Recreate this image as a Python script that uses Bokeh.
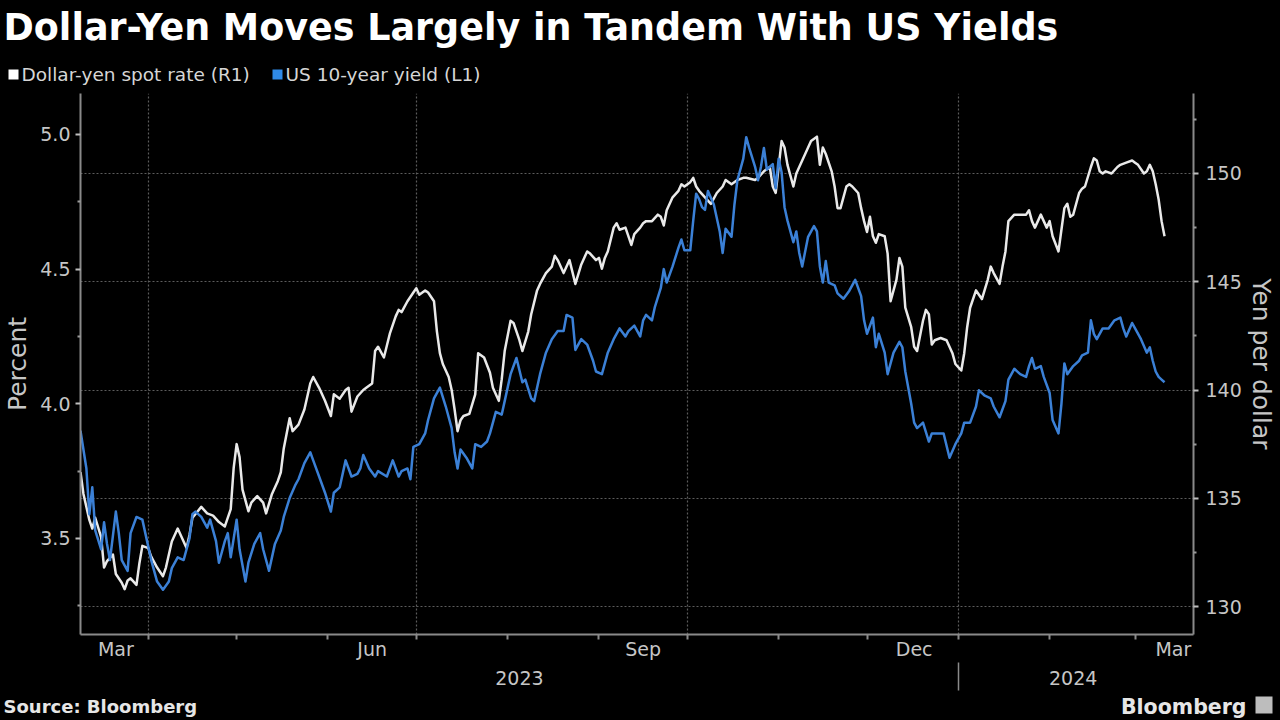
import pandas as pd
from bokeh.plotting import figure
from bokeh.layouts import column
from bokeh.models import (Range1d, LinearAxis, FixedTicker, Grid, Label, BoxAnnotation,
                          PrintfTickFormatter, ColumnDataSource, GlobalInlineStyleSheet)
from bokeh.embed import file_html
from bokeh.resources import INLINE

# ---------------- texts ----------------
title_text = "Dollar-Yen Moves Largely in Tandem With US Yields"
legend_labels = ["Dollar-yen spot rate (R1)", "US 10-year yield (L1)"]
left_title = "Percent"
right_title = "Yen per dollar"
source_text = "Source: Bloomberg"
brand_text = "Bloomberg"

# ---------------- data: dollar-yen spot rate (right axis) ----------------
yen_dates = [
    "2023-03-09", "2023-03-10", "2023-03-12", "2023-03-13", "2023-03-14", "2023-03-16", "2023-03-17",
    "2023-03-18", "2023-03-20", "2023-03-21", "2023-03-23", "2023-03-24", "2023-03-25", "2023-03-26",
    "2023-03-28", "2023-03-29", "2023-03-30",
    "2023-04-01", "2023-04-02", "2023-04-04", "2023-04-06", "2023-04-07", "2023-04-09", "2023-04-11",
    "2023-04-12", "2023-04-14", "2023-04-15", "2023-04-16", "2023-04-19", "2023-04-21", "2023-04-23",
    "2023-04-25", "2023-04-27", "2023-04-29", "2023-04-30",
    "2023-05-01", "2023-05-02", "2023-05-03", "2023-05-05", "2023-05-06", "2023-05-08", "2023-05-10",
    "2023-05-11", "2023-05-13", "2023-05-15", "2023-05-16", "2023-05-17", "2023-05-19", "2023-05-20",
    "2023-05-22", "2023-05-24", "2023-05-26", "2023-05-27", "2023-05-29", "2023-05-31",
    "2023-06-02", "2023-06-03", "2023-06-05", "2023-06-07", "2023-06-08", "2023-06-09", "2023-06-11",
    "2023-06-13", "2023-06-14", "2023-06-16", "2023-06-17", "2023-06-18", "2023-06-20", "2023-06-22",
    "2023-06-24", "2023-06-25", "2023-06-26", "2023-06-28", "2023-06-30",
    "2023-07-01", "2023-07-02", "2023-07-04", "2023-07-05", "2023-07-07", "2023-07-08", "2023-07-09",
    "2023-07-10", "2023-07-12", "2023-07-13", "2023-07-14", "2023-07-15", "2023-07-16", "2023-07-17",
    "2023-07-19", "2023-07-21", "2023-07-22", "2023-07-24", "2023-07-26", "2023-07-27", "2023-07-29",
    "2023-07-30", "2023-07-31",
    "2023-08-02", "2023-08-03", "2023-08-05", "2023-08-06", "2023-08-08", "2023-08-09", "2023-08-11",
    "2023-08-12", "2023-08-14", "2023-08-16", "2023-08-17", "2023-08-18", "2023-08-20", "2023-08-21",
    "2023-08-22", "2023-08-24", "2023-08-26", "2023-08-28", "2023-08-29", "2023-08-31",
    "2023-09-01", "2023-09-02", "2023-09-03", "2023-09-04", "2023-09-06", "2023-09-07", "2023-09-08",
    "2023-09-10", "2023-09-12", "2023-09-13", "2023-09-15", "2023-09-16", "2023-09-17", "2023-09-19",
    "2023-09-21", "2023-09-22", "2023-09-23", "2023-09-24", "2023-09-26", "2023-09-28", "2023-09-29",
    "2023-09-30",
    "2023-10-02", "2023-10-03", "2023-10-04", "2023-10-05", "2023-10-07", "2023-10-09", "2023-10-11",
    "2023-10-13", "2023-10-14", "2023-10-16", "2023-10-18", "2023-10-20", "2023-10-21", "2023-10-24",
    "2023-10-25", "2023-10-27", "2023-10-29", "2023-10-30", "2023-10-31",
    "2023-11-02", "2023-11-03", "2023-11-04", "2023-11-06", "2023-11-07", "2023-11-09", "2023-11-11",
    "2023-11-12", "2023-11-14", "2023-11-15", "2023-11-16", "2023-11-17", "2023-11-19", "2023-11-20",
    "2023-11-21", "2023-11-22", "2023-11-24", "2023-11-25", "2023-11-26", "2023-11-28", "2023-11-29",
    "2023-11-30",
    "2023-12-01", "2023-12-02", "2023-12-03", "2023-12-04", "2023-12-05", "2023-12-07", "2023-12-08",
    "2023-12-09", "2023-12-11", "2023-12-12", "2023-12-13", "2023-12-14", "2023-12-16", "2023-12-17",
    "2023-12-18", "2023-12-20", "2023-12-21", "2023-12-22", "2023-12-23", "2023-12-24", "2023-12-26",
    "2023-12-28", "2023-12-30", "2023-12-31",
    "2024-01-02", "2024-01-03", "2024-01-04", "2024-01-05", "2024-01-07", "2024-01-08", "2024-01-09",
    "2024-01-11", "2024-01-12", "2024-01-13", "2024-01-15", "2024-01-16", "2024-01-17", "2024-01-18",
    "2024-01-20", "2024-01-21", "2024-01-24", "2024-01-25", "2024-01-26", "2024-01-27", "2024-01-29",
    "2024-01-30", "2024-01-31",
    "2024-02-01", "2024-02-02", "2024-02-04", "2024-02-05", "2024-02-06", "2024-02-07", "2024-02-08",
    "2024-02-09", "2024-02-11", "2024-02-12", "2024-02-13", "2024-02-15", "2024-02-16", "2024-02-17",
    "2024-02-18", "2024-02-19", "2024-02-20", "2024-02-22", "2024-02-24", "2024-02-25", "2024-02-27",
    "2024-02-29",
    "2024-03-01", "2024-03-02", "2024-03-04", "2024-03-05", "2024-03-06", "2024-03-07", "2024-03-08",
    "2024-03-09", "2024-03-10", "2024-03-11",
]
yen_values = [
    136.2, 135.2, 134.0, 133.6, 134.1, 133.2, 131.8,
    132.1, 132.4, 131.5, 131.1, 130.8, 131.2, 131.3,
    131.0, 132.0, 132.8,
    132.7, 132.3, 131.8, 131.4, 131.8, 133.0, 133.6,
    133.3, 132.7, 133.3, 134.1, 134.6, 134.3, 134.2,
    133.9, 133.7, 134.5, 136.4,
    137.5, 136.9, 135.4, 134.4, 134.8, 135.1, 134.8,
    134.3, 135.2, 135.8, 136.2, 137.3, 138.7, 138.1,
    138.4, 139.1, 140.3, 140.6, 140.1, 139.5,
    138.8, 139.8, 139.6, 140.0, 140.1, 139.0, 139.7,
    140.0, 140.1, 140.3, 141.8, 142.0, 141.5, 142.6,
    143.4, 143.7, 143.6, 144.1, 144.5,
    144.7, 144.4, 144.6, 144.5, 144.1, 142.7, 141.7,
    141.2, 140.6, 140.0, 139.1, 138.1, 138.6, 138.8,
    138.9, 139.8, 141.7, 141.5, 140.8, 140.1, 139.5,
    140.5, 141.8,
    143.2, 143.1, 142.3, 141.8, 142.7, 143.5, 144.6,
    144.9, 145.4, 145.7, 146.2, 146.0, 145.4, 145.7,
    146.0, 144.9, 145.8, 146.4, 146.3, 146.0,
    146.1, 145.6, 146.1, 146.4, 147.5, 147.7, 147.4,
    147.5, 146.7, 147.2, 147.5, 147.7, 147.8, 147.8,
    148.1, 148.0, 147.6, 148.3, 148.9, 149.2, 149.5,
    149.4,
    149.6, 149.8, 149.4, 149.2, 148.9, 148.6, 149.1,
    149.4, 149.7, 149.5, 149.7, 149.8, 149.8, 149.7,
    149.8, 150.1, 150.3, 149.4, 149.1,
    151.5, 151.2, 150.4, 149.4, 150.0, 150.6, 151.2,
    151.5, 151.7, 150.4, 151.2, 150.9, 150.1, 149.4,
    148.4, 148.4, 149.4, 149.5, 149.4, 149.1, 148.4,
    147.8,
    147.3, 148.0, 147.1, 146.8, 147.2, 147.1, 146.3,
    144.1, 145.1, 146.1, 145.7, 143.8, 142.9, 142.0,
    141.8, 143.2, 143.7, 143.5, 142.1, 142.3, 142.4,
    142.3, 141.7, 141.2,
    140.9, 141.7, 142.9, 143.8, 144.6, 144.4, 144.2,
    145.1, 145.7, 145.4, 144.9, 145.7, 146.4, 147.8,
    148.1, 148.1, 148.1, 148.3, 147.8, 147.5, 148.1,
    147.8, 147.5,
    147.8, 147.1, 146.4, 147.4, 148.4, 148.6, 148.0,
    148.1, 149.1, 149.3, 149.4, 150.3, 150.7, 150.6,
    150.1, 150.0, 150.1, 150.0, 150.3, 150.4, 150.5,
    150.6,
    150.5, 150.4, 150.0, 150.1, 150.4, 150.1, 149.5,
    148.8, 147.8, 147.1,
]

# ---------------- data: US 10-year yield (left axis) ----------------
yld_dates = [
    "2023-03-09", "2023-03-11", "2023-03-12", "2023-03-13", "2023-03-14", "2023-03-16", "2023-03-17",
    "2023-03-18", "2023-03-19", "2023-03-21", "2023-03-22", "2023-03-23", "2023-03-25", "2023-03-26",
    "2023-03-28", "2023-03-30", "2023-03-31",
    "2023-04-02", "2023-04-04", "2023-04-06", "2023-04-08", "2023-04-09", "2023-04-11", "2023-04-13",
    "2023-04-15", "2023-04-16", "2023-04-17", "2023-04-19", "2023-04-21", "2023-04-22", "2023-04-24",
    "2023-04-25", "2023-04-27", "2023-04-28", "2023-04-29",
    "2023-05-01", "2023-05-02", "2023-05-04", "2023-05-05", "2023-05-07", "2023-05-09", "2023-05-10",
    "2023-05-12", "2023-05-14", "2023-05-16", "2023-05-17", "2023-05-19", "2023-05-21", "2023-05-22",
    "2023-05-24", "2023-05-26", "2023-05-27", "2023-05-29", "2023-05-31",
    "2023-06-02", "2023-06-03", "2023-06-05", "2023-06-07", "2023-06-09", "2023-06-11", "2023-06-12",
    "2023-06-13", "2023-06-15", "2023-06-17", "2023-06-18", "2023-06-21", "2023-06-23", "2023-06-25",
    "2023-06-26", "2023-06-28", "2023-06-29", "2023-06-30",
    "2023-07-02", "2023-07-04", "2023-07-05", "2023-07-07", "2023-07-09", "2023-07-11", "2023-07-13",
    "2023-07-14", "2023-07-15", "2023-07-16", "2023-07-18", "2023-07-20", "2023-07-21", "2023-07-23",
    "2023-07-25", "2023-07-26", "2023-07-28", "2023-07-30", "2023-07-31",
    "2023-08-02", "2023-08-04", "2023-08-06", "2023-08-07", "2023-08-09", "2023-08-10", "2023-08-12",
    "2023-08-14", "2023-08-16", "2023-08-18", "2023-08-20", "2023-08-21", "2023-08-23", "2023-08-24",
    "2023-08-26", "2023-08-28", "2023-08-30", "2023-08-31",
    "2023-09-02", "2023-09-04", "2023-09-06", "2023-09-08", "2023-09-10", "2023-09-11", "2023-09-13",
    "2023-09-15", "2023-09-16", "2023-09-17", "2023-09-19", "2023-09-20", "2023-09-22", "2023-09-23",
    "2023-09-24", "2023-09-26", "2023-09-28", "2023-09-29", "2023-09-30",
    "2023-10-02", "2023-10-03", "2023-10-04", "2023-10-05", "2023-10-06", "2023-10-07", "2023-10-08",
    "2023-10-10", "2023-10-12", "2023-10-13", "2023-10-14", "2023-10-16", "2023-10-17", "2023-10-18",
    "2023-10-20", "2023-10-21", "2023-10-22", "2023-10-24", "2023-10-25", "2023-10-26", "2023-10-27",
    "2023-10-28", "2023-10-30", "2023-10-31",
    "2023-11-01", "2023-11-02", "2023-11-03", "2023-11-04", "2023-11-06", "2023-11-07", "2023-11-08",
    "2023-11-09", "2023-11-11", "2023-11-13", "2023-11-14", "2023-11-15", "2023-11-16", "2023-11-17",
    "2023-11-18", "2023-11-20", "2023-11-21", "2023-11-23", "2023-11-25", "2023-11-27", "2023-11-29",
    "2023-11-30",
    "2023-12-01", "2023-12-03", "2023-12-04", "2023-12-05", "2023-12-07", "2023-12-08", "2023-12-10",
    "2023-12-12", "2023-12-13", "2023-12-14", "2023-12-16", "2023-12-17", "2023-12-18", "2023-12-20",
    "2023-12-22", "2023-12-23", "2023-12-26", "2023-12-27", "2023-12-29", "2023-12-31",
    "2024-01-02", "2024-01-03", "2024-01-05", "2024-01-07", "2024-01-08", "2024-01-10", "2024-01-12",
    "2024-01-13", "2024-01-15", "2024-01-17", "2024-01-18", "2024-01-20", "2024-01-22", "2024-01-24",
    "2024-01-25", "2024-01-26", "2024-01-27", "2024-01-29", "2024-01-30",
    "2024-02-01", "2024-02-02", "2024-02-04", "2024-02-05", "2024-02-06", "2024-02-07", "2024-02-09",
    "2024-02-11", "2024-02-12", "2024-02-14", "2024-02-15", "2024-02-16", "2024-02-17", "2024-02-19",
    "2024-02-21", "2024-02-23", "2024-02-25", "2024-02-26", "2024-02-27", "2024-02-29",
    "2024-03-01", "2024-03-03", "2024-03-05", "2024-03-06", "2024-03-07", "2024-03-08", "2024-03-09",
    "2024-03-10", "2024-03-11",
]
yld_values = [
    3.90, 3.76, 3.59, 3.69, 3.53, 3.46, 3.56,
    3.48, 3.42, 3.60, 3.52, 3.42, 3.38, 3.52,
    3.58, 3.57, 3.52,
    3.42, 3.34, 3.31, 3.34, 3.39, 3.43, 3.42,
    3.50, 3.59, 3.60, 3.58, 3.54, 3.57, 3.49,
    3.41, 3.49, 3.52, 3.43,
    3.57, 3.46, 3.34, 3.41, 3.48, 3.52, 3.46,
    3.38, 3.48, 3.53, 3.58, 3.65, 3.70, 3.72,
    3.78, 3.82, 3.79, 3.73, 3.67,
    3.60, 3.67, 3.69, 3.79, 3.73, 3.74, 3.76,
    3.81, 3.76, 3.73, 3.75, 3.73, 3.79, 3.73,
    3.75, 3.76, 3.72, 3.84,
    3.85, 3.89, 3.94, 4.02, 4.06, 3.99, 3.91,
    3.82, 3.76, 3.83, 3.80, 3.76, 3.85, 3.84,
    3.86, 3.89, 3.97, 3.96, 4.01,
    4.11, 4.17, 4.08, 4.09, 4.02, 4.01, 4.11,
    4.19, 4.24, 4.27, 4.27, 4.33, 4.32, 4.20,
    4.24, 4.22, 4.16, 4.12,
    4.11, 4.19, 4.24, 4.28, 4.25, 4.27, 4.29,
    4.25, 4.31, 4.33, 4.31, 4.36, 4.43, 4.50,
    4.45, 4.51, 4.58, 4.61, 4.57,
    4.57, 4.68, 4.78, 4.76, 4.73, 4.72, 4.79,
    4.74, 4.64, 4.56, 4.65, 4.62, 4.74, 4.83,
    4.91, 4.99, 4.95, 4.88, 4.83, 4.88, 4.95,
    4.87, 4.89, 4.80,
    4.91, 4.86, 4.73, 4.68, 4.60, 4.64, 4.56,
    4.51, 4.62, 4.66, 4.64, 4.51, 4.45, 4.53,
    4.45, 4.44, 4.41, 4.39, 4.42, 4.46, 4.40,
    4.31,
    4.26, 4.32, 4.21, 4.26, 4.19, 4.11, 4.19,
    4.23, 4.21, 4.12, 4.00, 3.93, 3.91, 3.93,
    3.86, 3.89, 3.89, 3.89, 3.80, 3.85,
    3.89, 3.93, 3.93, 3.99, 4.05, 4.03, 4.02,
    3.99, 3.95, 4.01, 4.09, 4.13, 4.11, 4.10,
    4.14, 4.17, 4.13, 4.14, 4.10,
    4.04, 3.94, 3.89, 4.00, 4.15, 4.11, 4.14,
    4.16, 4.18, 4.19, 4.31, 4.26, 4.24, 4.28,
    4.28, 4.31, 4.32, 4.28, 4.25, 4.30,
    4.28, 4.24, 4.19, 4.21, 4.16, 4.12, 4.10,
    4.09, 4.08,
]

# ---------------- axes / ticks ----------------
x_start, x_end = "2023-03-09", "2024-03-20 20:00"
pct_range = (3.1436, 5.152)
yen_range = (128.707, 153.695)
pct_ticks = [3.5, 4.0, 4.5, 5.0]
pct_minor = [3.25, 3.75, 4.25, 4.75]
yen_ticks = [130, 135, 140, 145, 150]
yen_minor = [132.5, 137.5, 142.5, 147.5, 152.5]
month_start_dates = ["2023-04-01", "2023-05-01", "2023-06-01", "2023-07-01", "2023-08-01", "2023-09-01",
                     "2023-10-01", "2023-11-01", "2023-12-01", "2024-01-01", "2024-02-01", "2024-03-01"]
quarter_dates = ["2023-04-01", "2023-07-01", "2023-10-01", "2024-01-01"]
month_label_dates = ["2023-03-21", "2023-06-16", "2023-09-16", "2023-12-17", "2024-03-14"]
month_labels = ["Mar", "Jun", "Sep", "Dec", "Mar"]
year_label_dates = ["2023-08-05", "2024-02-09"]
year_labels = ["2023", "2024"]
year_break_dates = ["2024-01-01"]


def ms(s):
    return pd.Timestamp(s).value / 1e6


# ---------------- styling ----------------
FONT = "DejaVu Sans"
BG = "#000000"
AXIS_C = "#8a8a8a"
GRID_C = "#5c5c5c"
TICK_TXT = "#c6c6c6"
WHITE_LINE = "#e9e9e9"
BLUE_LINE = "#3b80d6"
BLUE_KEY = "#2f8ae8"

PAGE_W = 1280
HEAD_H, FOOT_H = 88, 26
MAIN_H = 720 - HEAD_H - FOOT_H
sheet = GlobalInlineStyleSheet(css="html, body { background-color: #000000; }")


def text_panel(h):
    f = figure(width=PAGE_W, height=h, x_range=Range1d(0, PAGE_W), y_range=Range1d(h, 0),
               x_axis_location=None, y_axis_location=None, title=None,
               output_backend="svg", toolbar_location=None, min_border=0,
               background_fill_color=BG, border_fill_color=BG, outline_line_color=None)
    f.grid.visible = False
    f.frame_align = False
    return f


# ---------------- header: title + legend ----------------
head = text_panel(HEAD_H)
head.stylesheets = [sheet]
head.add_layout(Label(x=3, y=27, text=title_text, text_font=FONT, text_font_size="36.5px",
                      text_font_style="bold", text_color="#ffffff", text_baseline="middle"))
head.add_layout(BoxAnnotation(left=8, right=18, top=69, bottom=79, fill_color="#ffffff",
                              fill_alpha=1, line_color=None))
head.add_layout(Label(x=21, y=74, text=legend_labels[0], text_font=FONT, text_font_size="18.5px",
                      text_color="#d6d6d6", text_baseline="middle"))
head.add_layout(BoxAnnotation(left=272, right=282, top=69, bottom=79, fill_color=BLUE_KEY,
                              fill_alpha=1, line_color=None))
head.add_layout(Label(x=285, y=74, text=legend_labels[1], text_font=FONT, text_font_size="18.5px",
                      text_color="#d6d6d6", text_baseline="middle"))

# ---------------- main chart ----------------
fig = figure(width=PAGE_W, height=MAIN_H, x_axis_type="datetime",
             x_range=Range1d(ms(x_start), ms(x_end)),
             y_range=Range1d(*pct_range), title=None,
             output_backend="svg", toolbar_location=None,
             min_border_left=80, min_border_right=87, min_border_top=5, min_border_bottom=60,
             background_fill_color=BG, border_fill_color=BG, outline_line_color=None)
fig.frame_align = False
fig.extra_y_ranges = {"yen": Range1d(*yen_range)}

fig.xgrid.ticker = FixedTicker(ticks=[ms(d) for d in quarter_dates])
fig.xgrid.grid_line_color = GRID_C
fig.xgrid.grid_line_dash = "2 2"
fig.xgrid.grid_line_width = 1.2
fig.ygrid.visible = False
fig.add_layout(Grid(dimension=1, y_range_name="yen", ticker=FixedTicker(ticks=yen_ticks),
                    grid_line_color=GRID_C, grid_line_dash="2 2", grid_line_width=1.2))

# main x axis: month tick marks and quarter-month labels
xax = fig.xaxis[0]
xax.ticker = FixedTicker(ticks=[ms(d) for d in month_label_dates],
                         minor_ticks=[ms(d) for d in month_start_dates])
xax.major_label_overrides = {ms(d): t for d, t in zip(month_label_dates, month_labels)}
xax.major_tick_line_color = None
xax.major_tick_out = 0
xax.major_tick_in = 0
xax.minor_tick_line_color = AXIS_C
xax.minor_tick_line_width = 2
xax.minor_tick_out = 5
xax.minor_tick_in = 0
xax.axis_line_color = AXIS_C
xax.axis_line_width = 2
xax.major_label_standoff = -2
xax.major_label_text_color = TICK_TXT
xax.major_label_text_font = FONT
xax.major_label_text_font_size = "19px"

# year axis with separator
yr_axis = LinearAxis(ticker=FixedTicker(ticks=[ms(d) for d in year_label_dates],
                                        minor_ticks=[ms(d) for d in year_break_dates]))
yr_axis.major_label_overrides = {ms(d): t for d, t in zip(year_label_dates, year_labels)}
yr_axis.axis_line_color = None
yr_axis.major_tick_line_color = None
yr_axis.major_tick_out = 0
yr_axis.major_tick_in = 0
yr_axis.minor_tick_line_color = AXIS_C
yr_axis.minor_tick_line_width = 1.5
yr_axis.minor_tick_out = 28
yr_axis.minor_tick_in = 0
yr_axis.major_label_standoff = -20
yr_axis.major_label_text_color = TICK_TXT
yr_axis.major_label_text_font = FONT
yr_axis.major_label_text_font_size = "19px"
fig.add_layout(yr_axis, "below")

# left axis (percent) and right axis (yen)
lax = fig.yaxis[0]
lax.ticker = FixedTicker(ticks=pct_ticks, minor_ticks=pct_minor)
lax.formatter = PrintfTickFormatter(format="%.1f")
lax.axis_label = left_title
lax.axis_label_standoff = 5

rax = LinearAxis(y_range_name="yen", ticker=FixedTicker(ticks=yen_ticks, minor_ticks=yen_minor))
rax.axis_label = right_title
rax.axis_label_standoff = 2
fig.add_layout(rax, "right")

for ax in (lax, rax):
    ax.axis_line_color = AXIS_C
    ax.axis_line_width = 2
    ax.major_tick_line_color = "#bdbdbd"
    ax.major_tick_line_width = 2
    ax.major_tick_out = 5
    ax.major_tick_in = 0
    ax.minor_tick_line_color = "#9a9a9a"
    ax.minor_tick_line_width = 2
    ax.minor_tick_out = 3
    ax.minor_tick_in = 0
    ax.major_label_standoff = 5
    ax.major_label_text_color = TICK_TXT
    ax.major_label_text_font = FONT
    ax.major_label_text_font_size = "19px"
    ax.axis_label_text_color = TICK_TXT
    ax.axis_label_text_font = FONT
    ax.axis_label_text_font_size = "25px"
    ax.axis_label_text_font_style = "normal"
rax.major_label_standoff = 7

src_yen = ColumnDataSource(dict(x=pd.to_datetime(yen_dates), y=yen_values))
src_yld = ColumnDataSource(dict(x=pd.to_datetime(yld_dates), y=yld_values))
fig.line("x", "y", source=src_yen, y_range_name="yen", line_color=WHITE_LINE, line_width=2.5,
         line_join="round")
fig.line("x", "y", source=src_yld, line_color=BLUE_LINE, line_width=2.5, line_join="round")

# ---------------- footer: source + brand ----------------
foot = text_panel(FOOT_H)
foot.add_layout(Label(x=3, y=11.5, text=source_text, text_font=FONT, text_font_size="18px",
                      text_font_style="bold", text_color="#e6e6e6", text_baseline="middle"))
foot.add_layout(Label(x=1246, y=12.5, text=brand_text, text_font=FONT, text_font_size="20.5px",
                      text_font_style="bold", text_color="#e6e6e6", text_align="right",
                      text_baseline="middle"))
foot.add_layout(BoxAnnotation(left=1255, right=1272, top=2, bottom=19, fill_color="#bdbdbd",
                              fill_alpha=1, line_color=None))

p = column(head, fig, foot)
open("out.html", "w").write(file_html(p, INLINE))
